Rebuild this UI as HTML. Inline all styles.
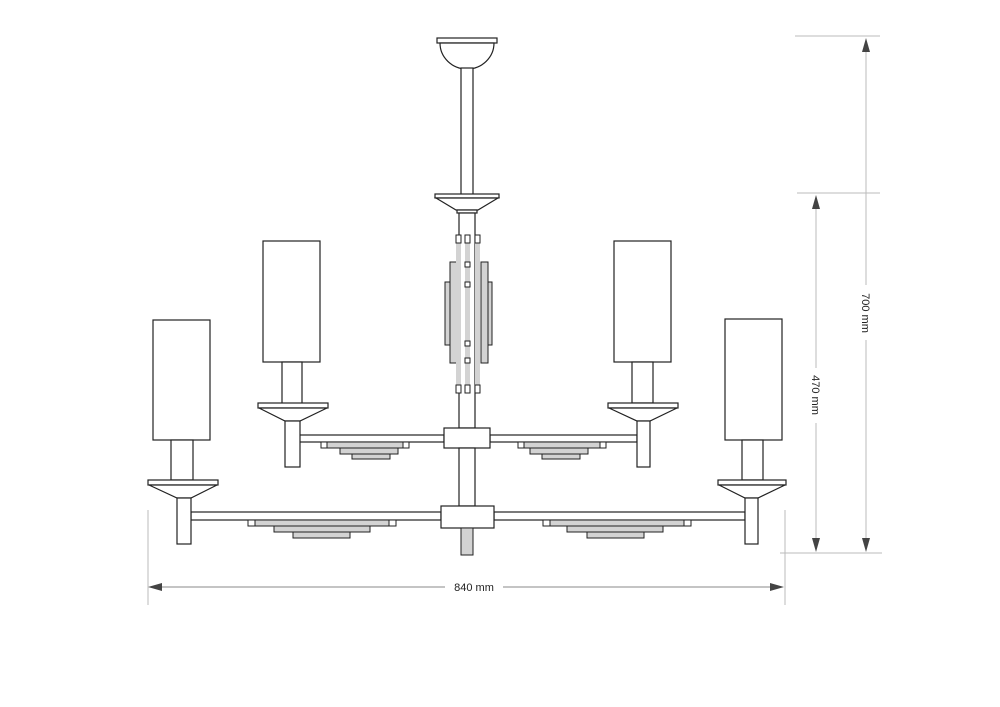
<!DOCTYPE html>
<html><head><style>html,body{margin:0;padding:0;background:#fff}svg{display:block}</style></head>
<body>
<svg width="1000" height="707" viewBox="0 0 1000 707" xmlns="http://www.w3.org/2000/svg" font-family="Liberation Sans, sans-serif">
<rect width="1000" height="707" fill="#fff"/>
<g fill="#fff" stroke="#222" stroke-width="1.2">
<!-- canopy -->
<rect x="437" y="38" width="60" height="5"/>
<path d="M440 43 A27 26 0 0 0 494 43 Z"/>
<rect x="461" y="68" width="12" height="127"/>
<rect x="435" y="194" width="64" height="4"/>
<path d="M436 198 L498 198 L478 210 L456 210 Z"/>
<rect x="457" y="210" width="20" height="3"/>
<rect x="459" y="213" width="16" height="215"/>
</g>
<!-- central decoration -->
<g fill="#d3d3d3" stroke="#222" stroke-width="1">
<rect x="445" y="282" width="5" height="63"/>
<rect x="487" y="282" width="5" height="63"/>
<rect x="450" y="262" width="7" height="101"/>
<rect x="481" y="262" width="7" height="101"/>
<rect x="456" y="235" width="5" height="158" stroke="none"/>
<rect x="465" y="235" width="5" height="158" stroke="none"/>
<rect x="475" y="235" width="5" height="158" stroke="none"/>
</g>
<g fill="#fff" stroke="#222" stroke-width="1">
<rect x="456" y="235" width="5" height="8"/><rect x="465" y="235" width="5" height="8"/><rect x="475" y="235" width="5" height="8"/>
<rect x="456" y="385" width="5" height="8"/><rect x="465" y="385" width="5" height="8"/><rect x="475" y="385" width="5" height="8"/>
<rect x="465" y="262" width="5" height="5"/><rect x="465" y="282" width="5" height="5"/>
<rect x="465" y="341" width="5" height="5"/><rect x="465" y="358" width="5" height="5"/>
</g>
<g fill="#fff" stroke="#222" stroke-width="1.2">
<!-- upper arms -->
<rect x="298" y="435" width="146" height="7"/>
<rect x="490" y="435" width="147" height="7"/>
<!-- lower arms -->
<rect x="191" y="512" width="250" height="8"/>
<rect x="494" y="512" width="251" height="8"/>
<!-- hubs -->
<rect x="444" y="428" width="46" height="20"/>
<rect x="459" y="448" width="16" height="58"/>
<rect x="441" y="506" width="53" height="22"/>
</g>
<rect x="461" y="528" width="12" height="27" fill="#d3d3d3" stroke="#222" stroke-width="1"/>
<!-- gray bars under arms -->
<g fill="#d3d3d3" stroke="#222" stroke-width="1">
<rect x="325" y="442" width="80" height="6"/><rect x="340" y="448" width="58" height="6"/><rect x="352" y="454" width="38" height="5"/>
<rect x="522" y="442" width="80" height="6"/><rect x="530" y="448" width="58" height="6"/><rect x="542" y="454" width="38" height="5"/>
<rect x="252" y="520" width="140" height="6"/><rect x="274" y="526" width="96" height="6"/><rect x="293" y="532" width="57" height="6"/>
<rect x="547" y="520" width="140" height="6"/><rect x="567" y="526" width="96" height="6"/><rect x="587" y="532" width="57" height="6"/>
</g>
<g fill="#fff" stroke="#222" stroke-width="1">
<rect x="321" y="442" width="6" height="6"/><rect x="403" y="442" width="6" height="6"/>
<rect x="518" y="442" width="6" height="6"/><rect x="600" y="442" width="6" height="6"/>
<rect x="248" y="520" width="7" height="6"/><rect x="389" y="520" width="7" height="6"/>
<rect x="543" y="520" width="7" height="6"/><rect x="684" y="520" width="7" height="6"/>
</g>
<!-- lamps -->
<g fill="#fff" stroke="#222" stroke-width="1.2">
<!-- upper left -->
<rect x="263" y="241" width="57" height="121"/>
<rect x="282" y="362" width="20" height="42"/>
<rect x="258" y="403" width="70" height="5"/>
<path d="M259 408 L327 408 L300 421 L285 421 Z"/>
<rect x="285" y="421" width="15" height="46"/>
<!-- upper right -->
<rect x="614" y="241" width="57" height="121"/>
<rect x="632" y="362" width="21" height="41"/>
<rect x="608" y="403" width="70" height="5"/>
<path d="M609 408 L677 408 L650 421 L637 421 Z"/>
<rect x="637" y="421" width="13" height="46"/>
<!-- lower left -->
<rect x="153" y="320" width="57" height="120"/>
<rect x="171" y="440" width="22" height="40"/>
<rect x="148" y="480" width="70" height="5"/>
<path d="M149 485 L217 485 L191 498 L177 498 Z"/>
<rect x="177" y="498" width="14" height="46"/>
<!-- lower right -->
<rect x="725" y="319" width="57" height="121"/>
<rect x="742" y="440" width="21" height="40"/>
<rect x="718" y="480" width="68" height="5"/>
<path d="M719 485 L785 485 L758 498 L745 498 Z"/>
<rect x="745" y="498" width="13" height="46"/>
</g>
<!-- dimensions -->
<g stroke="#bbb" stroke-width="1">
<line x1="795" y1="36" x2="880" y2="36"/>
<line x1="797" y1="193" x2="880" y2="193"/>
<line x1="780" y1="553" x2="882" y2="553"/>
<line x1="148" y1="510" x2="148" y2="605"/>
<line x1="785" y1="510" x2="785" y2="605"/>
<line x1="866" y1="40" x2="866" y2="550"/>
<line x1="816" y1="197" x2="816" y2="550"/>
<line x1="152" y1="587" x2="781" y2="587" stroke="#888"/>
</g>
<rect x="858" y="285" width="16" height="55" fill="#fff"/>
<rect x="808" y="368" width="16" height="55" fill="#fff"/>
<rect x="445" y="580" width="58" height="14" fill="#fff"/>
<g fill="#444">
<path d="M866 38 L862 52 L870 52 Z"/><path d="M866 552 L862 538 L870 538 Z"/>
<path d="M816 195 L812 209 L820 209 Z"/><path d="M816 552 L812 538 L820 538 Z"/>
<path d="M148 587 L162 583 L162 591 Z"/><path d="M784 587 L770 583 L770 591 Z"/>
</g>
<g font-size="11" fill="#222" text-anchor="middle">
<text x="474" y="591">840 mm</text>
<text transform="translate(862,313) rotate(90)">700 mm</text>
<text transform="translate(812,395) rotate(90)">470 mm</text>
</g>
</svg>
</body></html>
